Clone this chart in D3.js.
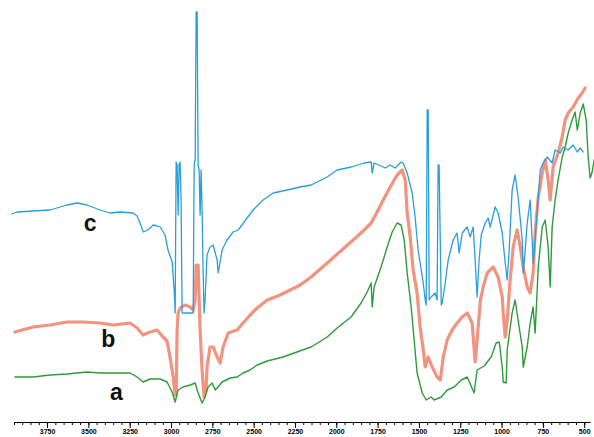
<!DOCTYPE html>
<html>
<head>
<meta charset="utf-8">
<script src="https://cdn.jsdelivr.net/npm/d3@7"></script>
<style>
  body { margin: 0; background: #fff; }
  .curve { fill: none; stroke-linejoin: round; stroke-linecap: round; }
  .tick text { font-family: "Liberation Sans", Arial, sans-serif; font-weight: bold; font-size: 7px; }
  .label { font-family: "Liberation Sans", Arial, sans-serif; font-weight: bold; font-size: 23px; fill: #111; }
</style>
</head>
<body>
<svg id="chart" width="594" height="437"></svg>
<script>
const svg = d3.select("#chart");

// wavenumber (cm-1) and relative transmittance (a.u.)
const wnA = [3944, 3835, 3732, 3629, 3508, 3429, 3248, 3205, 3169, 3127, 3066, 3024, 2993, 2975, 2957, 2927, 2884, 2854, 2836, 2812, 2794, 2776, 2751, 2733, 2715, 2691, 2642, 2600, 2564, 2521, 2479, 2418, 2322, 2255, 2152, 2055, 1995, 1910, 1850, 1813, 1789, 1783, 1771, 1729, 1692, 1662, 1632, 1608, 1589, 1571, 1547, 1529, 1511, 1480, 1456, 1426, 1408, 1365, 1329, 1287, 1244, 1208, 1166, 1148, 1105, 1063, 1033, 1014, 996, 990, 972, 966, 936, 918, 900, 875, 869, 845, 827, 809, 797, 778, 754, 736, 718, 706, 694, 676, 658, 633, 615, 597, 573, 555, 542, 524, 506, 488, 476, 464, 452, 440];
const valA = [33, 33, 35, 36, 38, 37, 37, 33, 28, 31, 31, 28, 18, 8, 20, 23, 25, 27, 17, 7, 13, 23, 27, 20, 23, 28, 32, 33, 37, 40, 45, 49, 53, 57, 63, 73, 82, 93, 107, 118, 127, 103, 123, 143, 163, 178, 187, 185, 170, 137, 103, 70, 37, 17, 10, 13, 10, 13, 20, 23, 30, 33, 17, 40, 44, 53, 67, 68, 43, 28, 27, 60, 97, 110, 90, 63, 43, 63, 87, 103, 77, 143, 183, 190, 163, 123, 183, 210, 230, 253, 263, 277, 290, 298, 280, 297, 306, 290, 253, 232, 238, 250];

const wnB = [3944, 3835, 3732, 3629, 3532, 3429, 3350, 3248, 3205, 3169, 3127, 3084, 3048, 3024, 3006, 2987, 2975, 2969, 2963, 2957, 2945, 2915, 2884, 2866, 2854, 2848, 2836, 2830, 2824, 2812, 2800, 2788, 2782, 2764, 2745, 2721, 2703, 2685, 2654, 2600, 2564, 2521, 2479, 2418, 2340, 2279, 2219, 2152, 2055, 1953, 1850, 1789, 1753, 1716, 1674, 1632, 1602, 1583, 1571, 1553, 1535, 1511, 1493, 1474, 1462, 1444, 1420, 1390, 1371, 1353, 1329, 1299, 1269, 1238, 1208, 1178, 1160, 1148, 1128, 1111, 1087, 1051, 1021, 996, 990, 978, 966, 948, 930, 906, 887, 869, 845, 827, 809, 797, 778, 754, 736, 718, 706, 688, 658, 633, 615, 597, 567, 536, 512, 494];
const valB = [78, 83, 85, 88, 88, 87, 85, 87, 82, 75, 78, 80, 73, 69, 53, 33, 15, 15, 80, 97, 102, 105, 103, 100, 110, 145, 145, 110, 80, 40, 13, 20, 43, 63, 63, 53, 47, 63, 77, 80, 87, 95, 102, 110, 115, 120, 125, 133, 147, 162, 177, 187, 198, 210, 223, 235, 240, 230, 197, 173, 140, 117, 83, 60, 43, 53, 43, 33, 30, 53, 70, 80, 87, 93, 97, 87, 48, 70, 110, 123, 137, 143, 133, 113, 97, 73, 90, 130, 163, 180, 163, 143, 123, 117, 137, 177, 213, 237, 250, 230, 210, 243, 257, 273, 290, 297, 303, 312, 317, 322];

const wnC = [3962, 3932, 3835, 3732, 3629, 3568, 3508, 3429, 3369, 3308, 3230, 3205, 3187, 3169, 3139, 3108, 3084, 3066, 3036, 3018, 2993, 2981, 2975, 2969, 2963, 2957, 2951, 2945, 2939, 2933, 2866, 2860, 2854, 2848, 2842, 2836, 2830, 2824, 2818, 2812, 2806, 2800, 2794, 2782, 2764, 2745, 2721, 2715, 2703, 2691, 2661, 2624, 2594, 2570, 2540, 2503, 2443, 2382, 2297, 2219, 2152, 2055, 1995, 1910, 1832, 1789, 1783, 1771, 1704, 1674, 1644, 1608, 1596, 1571, 1541, 1523, 1505, 1474, 1462, 1456, 1450, 1444, 1438, 1426, 1402, 1390, 1384, 1378, 1365, 1359, 1341, 1323, 1293, 1269, 1257, 1238, 1208, 1190, 1172, 1160, 1148, 1136, 1123, 1099, 1081, 1069, 1039, 1021, 996, 978, 966, 954, 936, 918, 900, 875, 869, 857, 845, 827, 815, 809, 797, 785, 766, 748, 724, 694, 676, 645, 627, 597, 567, 542, 524, 506];
const valC = [196, 198, 199, 200, 205, 207, 205, 200, 197, 198, 197, 194, 187, 178, 180, 185, 184, 183, 175, 160, 148, 120, 97, 248, 245, 195, 245, 248, 210, 97, 97, 245, 250, 398, 398, 245, 240, 195, 240, 200, 140, 97, 110, 155, 163, 165, 150, 137, 148, 160, 170, 178, 180, 185, 192, 200, 210, 217, 220, 223, 225, 233, 240, 243, 247, 248, 237, 247, 242, 245, 242, 248, 247, 237, 217, 193, 160, 127, 110, 105, 300, 300, 110, 113, 117, 110, 245, 245, 105, 107, 127, 150, 170, 177, 157, 177, 183, 173, 183, 150, 113, 150, 175, 187, 192, 183, 203, 197, 177, 147, 130, 160, 220, 235, 213, 170, 137, 160, 187, 210, 170, 147, 170, 197, 240, 247, 253, 247, 260, 257, 263, 260, 265, 258, 262, 258];

const majorTicks = [3750, 3500, 3250, 3000, 2750, 2500, 2250, 2000, 1750, 1500, 1250, 1000, 750, 500];
const minorTicks = d3.range(3950, 460, -50);

const series = [
  { name: "b", wn: wnB, val: valB, color: "#f0806a", width: 3.2, opacity: 0.85, labelWn: 3380, labelVal: 63 },
  { name: "a", wn: wnA, val: valA, color: "#2f9a3a", width: 1.4, opacity: 1, labelWn: 3330, labelVal: 10 },
  { name: "c", wn: wnC, val: valC, color: "#2a9edb", width: 1.3, opacity: 1, labelWn: 3490, labelVal: 179 }
];

const x = d3.scaleLinear().domain([3950, 465]).range([14, 590]);
const y = d3.scaleLinear().domain([0, 400]).range([410, 10]);

const line = d3.line()
  .x(d => x(d[0]))
  .y(d => y(d[1]));

series.forEach(s => {
  const pts = s.wn.map((w, i) => [w, s.val[i]]);
  svg.append("path")
    .datum(pts)
    .attr("class", "curve")
    .attr("d", line)
    .attr("stroke", s.color)
    .attr("stroke-width", s.width)
    .attr("stroke-opacity", s.opacity);
});

// curve letters
series.forEach(s => {
  svg.append("text")
    .attr("class", "label")
    .attr("x", x(s.labelWn))
    .attr("y", y(s.labelVal))
    .attr("text-anchor", "middle")
    .text(s.name);
});

// bottom axis
const axisY = 422;
svg.append("g")
  .attr("transform", `translate(0,${axisY})`)
  .call(d3.axisBottom(x).tickValues(minorTicks).tickSize(3).tickFormat(""))
  .call(g => g.select(".domain").remove());

svg.append("g")
  .attr("transform", `translate(0,${axisY})`)
  .call(d3.axisBottom(x).tickValues(majorTicks).tickSize(6).tickSizeOuter(0).tickPadding(1).tickFormat(d3.format("d")))
  .call(g => g.select(".domain").attr("stroke-width", 1.2));
</script>
</body>
</html>
